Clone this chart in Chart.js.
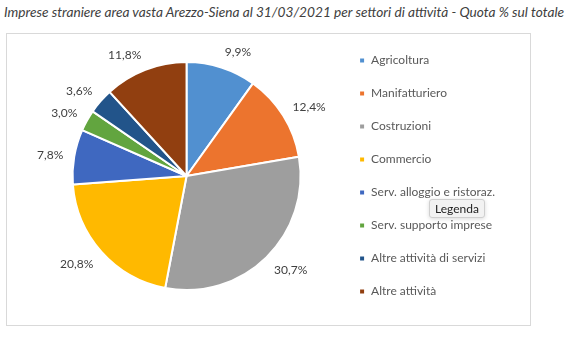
<!DOCTYPE html>
<html>
<head>
<meta charset="utf-8">
<script src="https://cdn.jsdelivr.net/npm/chart.js@4"></script>
<style>
  body { margin: 0; background: #fff; width: 582px; height: 337px; position: relative; overflow: hidden; font-family: Lato, sans-serif; }
  #title { position: absolute; left: 4px; top: 3px; font-style: italic; font-size: 13.7px; color: #404040; white-space: nowrap; }
  #frame { position: absolute; left: 6px; top: 33px; width: 523px; height: 291px; border: 1px solid #d9d9d9; }
  #wrap { position: absolute; left: 0; top: 0; width: 582px; height: 337px; }
  #hint { position: absolute; left: 429px; top: 199px; padding: 1px 5px; font-size: 12px; color: #222; background: #f2f2f2; border: 1px solid #cfcfcf; border-radius: 3px; box-shadow: 0 1px 4px rgba(0,0,0,0.15); }
</style>
</head>
<body>
<div id="title">Imprese straniere area vasta Arezzo-Siena al 31/03/2021 per settori di attività - Quota % sul totale</div>
<div id="frame"></div>
<div id="wrap"><canvas id="myPie"></canvas></div>
<div id="hint">Legenda</div>
<script>
// Settori e quote %
const sectors = ['Agricoltura', 'Manifatturiero', 'Costruzioni', 'Commercio',
  'Serv. alloggio e ristoraz.', 'Serv. supporto imprese', 'Altre attività di servizi', 'Altre attività'];
const shares = [9.9, 12.4, 30.7, 20.8, 7.8, 3.0, 3.6, 11.8];
const sliceColors = ['#5190D0', '#EC742E', '#9E9E9E', '#FFB900', '#3F68C0', '#62A53F', '#22548A', '#913F10'];

// percent labels just outside each slice
const outsideLabels = {
  id: 'outsideLabels',
  afterDatasetsDraw(chart) {
    const ctx = chart.ctx;
    const meta = chart.getDatasetMeta(0);
    ctx.save();
    ctx.font = '12px Lato';
    ctx.fillStyle = '#404040';
    ctx.textAlign = 'center';
    ctx.textBaseline = 'middle';
    meta.data.forEach((arc, i) => {
      const p = arc.getProps(['x', 'y', 'startAngle', 'endAngle', 'outerRadius'], true);
      const mid = (p.startAngle + p.endAngle) / 2;
      const ux = Math.cos(mid), uy = Math.sin(mid);
      const txt = shares[i].toFixed(1).replace('.', ',') + '%';
      const w = ctx.measureText(txt).width, h = 12;
      const r = p.outerRadius + 11;
      const x = p.x + r * ux + Math.sign(ux) * w / 2;
      const y = p.y + r * uy + uy * h / 2 + 1;
      ctx.fillText(txt, x, y);
    });
    ctx.restore();
  }
};

function initChart() {
  const data = {
    labels: sectors,
    datasets: [{
      data: shares,
      backgroundColor: sliceColors,
      borderColor: '#ffffff',
      borderWidth: 2
    }]
  };
  const config = {
    type: 'pie',
    data: data,
    options: {
      responsive: true,
      maintainAspectRatio: false,
      animation: false,
      events: [],
      radius: 114,
      layout: { padding: { top: 15, bottom: 0, left: 35, right: 77 } },
      plugins: {
        tooltip: { enabled: false },
        legend: {
          position: 'right',
          labels: {
            boxWidth: 6,
            boxHeight: 6,
            padding: 21,
            color: '#595959',
            font: { family: 'Lato', size: 12 }
          }
        }
      }
    },
    plugins: [outsideLabels]
  };
  new Chart(document.getElementById('myPie'), config);
}

document.addEventListener('DOMContentLoaded', function() {
  initChart();
});
</script>
</body>
</html>
